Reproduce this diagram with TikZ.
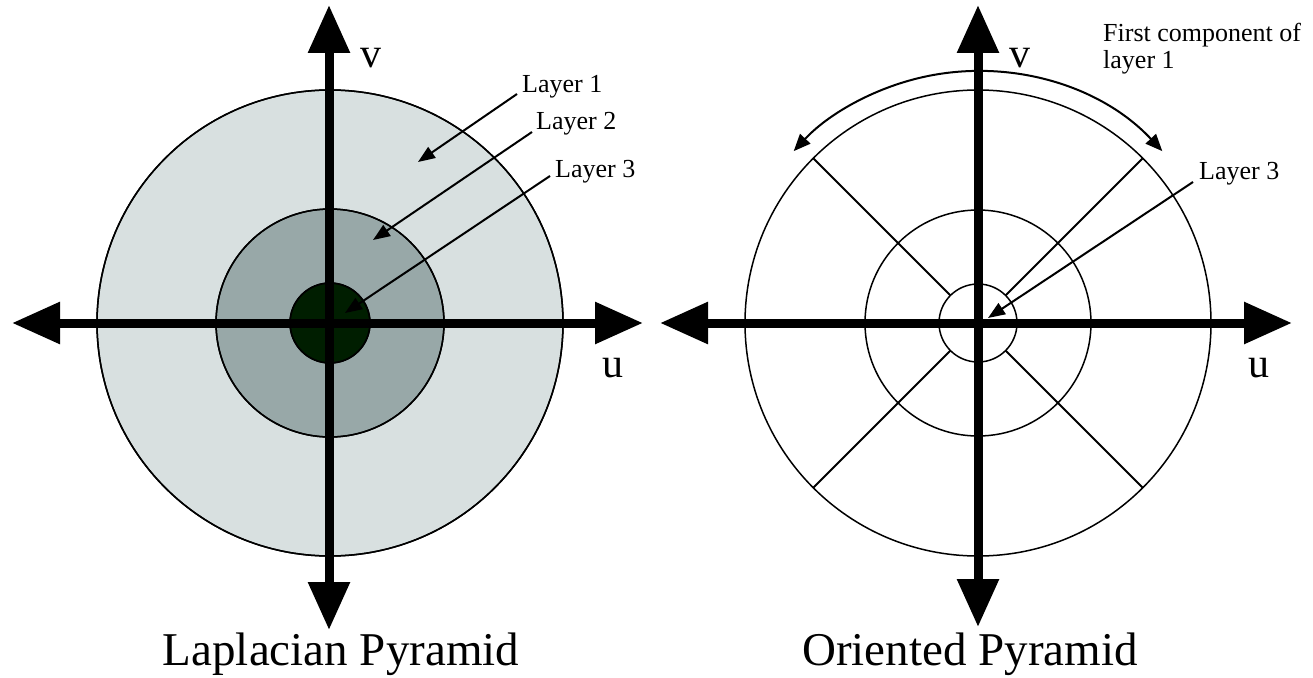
\documentclass[tikz,border=0pt]{standalone}
\usepackage{fontspec}
\setmainfont{Liberation Serif}
\usetikzlibrary{arrows.meta}
\definecolor{ringA}{HTML}{D8E0E0}
\definecolor{ringB}{HTML}{98A8A8}
\definecolor{ringC}{HTML}{001E00}
\begin{document}
\begin{tikzpicture}[x=1pt,y=-1pt,
  axis/.style={line width=9pt, {Triangle[length=48pt,width=40pt]}-{Triangle[length=48pt,width=40pt]}},
  ring/.style={draw=black, line width=1.5pt},
  lead/.style={line width=2pt, -{Triangle[length=17pt,width=13pt]}},
  spoke/.style={line width=2pt},
  lbl/.style={anchor=base west, inner sep=0pt, font=\fontsize{26}{27}\selectfont},
  uv/.style={anchor=base west, inner sep=0pt, font=\fontsize{42}{44}\selectfont},
  title/.style={anchor=base, inner sep=0pt, font=\fontsize{47}{50}\selectfont}]
  \useasboundingbox (0,0) rectangle (1313,677);

  % Laplacian pyramid
  \coordinate (L) at (330,323);
  \fill[ring, fill=ringA] (L) circle[radius=233];
  \fill[ring, fill=ringB] (L) circle[radius=114];
  \fill[ring, fill=ringC] (L) circle[radius=40];
  \draw[ring] (L) circle[radius=233] (L) circle[radius=114] (L) circle[radius=40];
  \coordinate (Lw) at (12,323);  \coordinate (Le) at (643,323);
  \coordinate (Ln) at (329,5);   \coordinate (Ls) at (329,630);
  \draw[axis] (Lw) -- (Le);
  \draw[axis] (Ls) -- (Ln);
  \node[uv] (Lv) at (360,67) {v};
  \node[uv] (Lu) at (602,377) {u};
  \node[lbl] (lay1) at (522,92) {Layer 1};
  \node[lbl] (lay2) at (536,129) {Layer 2};
  \node[lbl] (lay3) at (555,177) {Layer 3};
  \coordinate (t1) at (418,162);
  \coordinate (t2) at (373,240);
  \coordinate (t3) at (345,313);
  \draw[lead] ([shift={(-5,2)}]lay1.base west) -- (t1);
  \draw[lead] ([shift={(-4,3)}]lay2.base west) -- (t2);
  \draw[lead] ([shift={(-5,-1)}]lay3.base west) -- (t3);
  \node[title] (Ltitle) at (341,665) {Laplacian Pyramid};

  % Oriented pyramid
  \coordinate (R) at (978,323);
  \draw[ring] (R) circle[radius=233] (R) circle[radius=113] (R) circle[radius=39];
  \foreach \a in {45,135,225,315}
    \draw[spoke] ([shift={(\a:39)}]R) -- ([shift={(\a:233)}]R);
  \coordinate (Rw) at (660,323);  \coordinate (Re) at (1292,323);
  \coordinate (Rn) at (978,5);    \coordinate (Rs) at (978,627);
  \draw[axis] (Rw) -- (Re);
  \draw[axis] (Rs) -- (Rn);
  \node[uv] (Rv) at (1009,67) {v};
  \node[uv] (Ru) at (1248,377) {u};
  \draw[line width=2pt, {Triangle[length=17pt,width=14pt]}-{Triangle[length=17pt,width=14pt]}]
    ([shift={(-43:252)}]R) arc[start angle=-43, end angle=-137, radius=252];
  \node[lbl, anchor=north west, align=left] (comp) at (1103,23) {First component of\\layer 1};
  \node[lbl] (rlay3) at (1199,179) {Layer 3};
  \coordinate (rt3) at (988,318);
  \draw[lead] ([shift={(-6,3)}]rlay3.base west) -- (rt3);
  \node[title] (Rtitle) at (970,665) {Oriented Pyramid};
\end{tikzpicture}
\end{document}
